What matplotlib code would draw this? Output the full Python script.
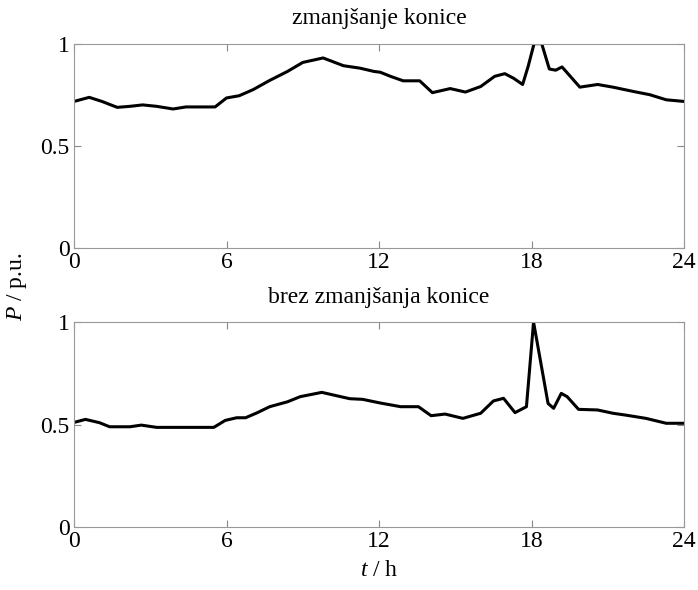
import matplotlib.pyplot as plt

plt.rcParams.update({'font.size': 16, 'font.family': 'Liberation Serif',
                     'mathtext.fontset': 'custom',
                     'mathtext.it': 'Liberation Serif:italic',
                     'mathtext.rm': 'Liberation Serif'})

# top: with peak shaving
t_top = [0.0, 0.6, 1.1, 1.7, 2.2, 2.7, 3.25, 3.9, 4.4, 5.55, 6.0, 6.5, 7.05, 7.7,
         8.4, 9.0, 9.8, 10.6, 11.25, 11.8, 12.05, 12.45, 12.95, 13.6, 14.1, 14.8,
         15.4, 16.0, 16.55, 16.95, 17.3, 17.65, 17.87, 18.1, 18.4, 18.7, 18.95,
         19.2, 19.9, 20.6, 21.2, 22.0, 22.65, 23.3, 24.0]
p_top = [0.717, 0.737, 0.717, 0.688, 0.693, 0.700, 0.693, 0.680, 0.690, 0.690,
         0.734, 0.745, 0.775, 0.820, 0.864, 0.908, 0.930, 0.892, 0.880, 0.864,
         0.860, 0.840, 0.818, 0.818, 0.760, 0.780, 0.763, 0.790, 0.840, 0.853,
         0.830, 0.800, 0.890, 1.0, 1.0, 0.876, 0.870, 0.886, 0.787, 0.800, 0.787,
         0.766, 0.750, 0.725, 0.717]

# bottom: without peak shaving
t_bot = [0.0, 0.45, 1.0, 1.4, 2.2, 2.65, 3.25, 5.5, 5.95, 6.4, 6.75, 7.2, 7.7,
         8.4, 8.9, 9.75, 10.35, 10.85, 11.35, 12.05, 12.85, 13.55, 14.05, 14.6,
         15.3, 16.0, 16.5, 16.9, 17.35, 17.8, 18.08, 18.65, 18.87, 19.17, 19.4,
         19.85, 20.6, 21.2, 21.7, 22.5, 23.3, 24.0]
p_bot = [0.510, 0.525, 0.509, 0.489, 0.489, 0.497, 0.486, 0.486, 0.520, 0.533,
         0.533, 0.557, 0.587, 0.611, 0.636, 0.657, 0.640, 0.626, 0.623, 0.605,
         0.587, 0.587, 0.543, 0.551, 0.530, 0.555, 0.615, 0.628, 0.558, 0.587,
         1.0, 0.603, 0.579, 0.652, 0.636, 0.574, 0.571, 0.555, 0.546, 0.530,
         0.506, 0.506]

xticks = [0, 6, 12, 18, 24]
yticks = [0, 0.5, 1]
ytick_labels = ['0', '0.5', '1']

fig = plt.figure(figsize=(6.98, 5.9), dpi=100)
ax1 = fig.add_axes([0.106, 0.580, 0.874, 0.346])
ax2 = fig.add_axes([0.106, 0.107, 0.874, 0.347])

for ax, t, p, title in [(ax1, t_top, p_top, 'zmanjšanje konice'),
                        (ax2, t_bot, p_bot, 'brez zmanjšanja konice')]:
    ax.plot(t, p, color='black', lw=2.2)
    ax.set_xlim(0, 24)
    ax.set_ylim(0, 1)
    ax.set_xticks(xticks)
    ax.set_yticks(yticks)
    ax.set_yticklabels(ytick_labels)
    ax.tick_params(direction='in', top=True, right=True, length=5,
                   color='#888888', pad=3, labelsize=17)
    for s in ax.spines.values():
        s.set_color('#999999')
    ax.set_title(title, fontsize=17, pad=14)

ax2.set_xlabel('$t$ / h', fontsize=17, labelpad=6)
fig.text(0.025, 0.515, '$P$ / p.u.', rotation=90, ha='center', va='center',
         fontsize=17)

fig.savefig('out.png', dpi=100)
